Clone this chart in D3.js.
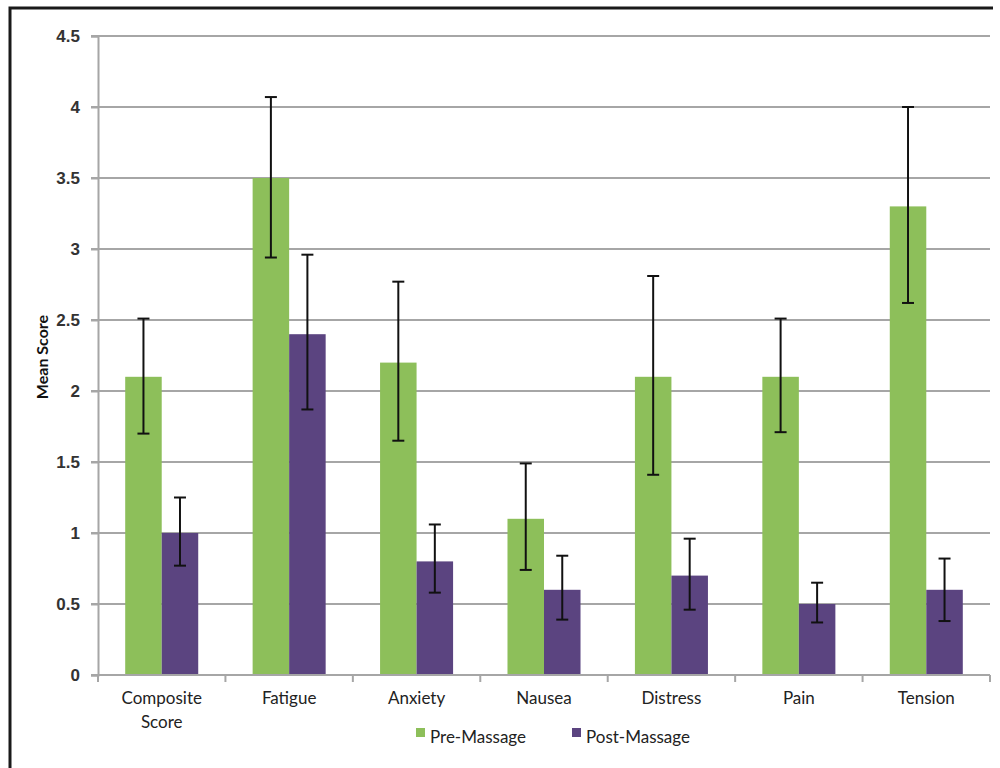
<!DOCTYPE html>
<html>
<head>
<meta charset="utf-8">
<script src="https://cdn.jsdelivr.net/npm/d3@7"></script>
<style>
  body { margin: 0; background: #fff; }
  svg { display: block; font-family: Lato, "Open Sans", sans-serif; }
</style>
</head>
<body>
<svg id="chart" width="1000" height="768"></svg>
<script>
const categories = ["Composite Score", "Fatigue", "Anxiety", "Nausea", "Distress", "Pain", "Tension"];
const series = ["Pre-Massage", "Post-Massage"];
const preMean = [2.1, 3.5, 2.2, 1.1, 2.1, 2.1, 3.3];
const preLow = [1.70, 2.94, 1.65, 0.74, 1.41, 1.71, 2.62];
const preHigh = [2.51, 4.07, 2.77, 1.49, 2.81, 2.51, 4.0];
const postMean = [1.0, 2.4, 0.8, 0.6, 0.7, 0.5, 0.6];
const postLow = [0.77, 1.87, 0.58, 0.39, 0.46, 0.37, 0.38];
const postHigh = [1.25, 2.96, 1.06, 0.84, 0.96, 0.65, 0.82];
const yTicks = [0, 0.5, 1, 1.5, 2, 2.5, 3, 3.5, 4, 4.5];

const colors = { "Pre-Massage": "#8dbf5a", "Post-Massage": "#5b4480" };

const svg = d3.select("#chart");
const plotLeft = 98, plotRight = 990, plotTop = 36, plotBottom = 675;

// frame
svg.append("path")
  .attr("d", "M10,768 L10,8 L993,8")
  .attr("fill", "none")
  .attr("stroke", "#1a1a1a")
  .attr("stroke-width", 3);

const x0 = d3.scaleBand().domain(categories).range([plotLeft, plotRight]);
const x1 = d3.scaleBand().domain(series).range([0, x0.bandwidth()]).paddingOuter(0.745);
const y = d3.scaleLinear().domain([0, 4.5]).range([plotBottom, plotTop]);

// gridlines
svg.append("g")
  .selectAll("line")
  .data(yTicks.filter(d => d > 0))
  .join("line")
    .attr("x1", plotLeft - 7)
    .attr("x2", plotRight)
    .attr("y1", d => y(d))
    .attr("y2", d => y(d))
    .attr("stroke", "#a6a6a6")
    .attr("stroke-width", 2);

// y axis
const yAxis = svg.append("g")
  .attr("transform", `translate(${plotLeft},0)`)
  .call(d3.axisLeft(y).tickValues(yTicks).tickSize(7).tickPadding(11).tickFormat(d => String(d)));
yAxis.select(".domain").attr("stroke", "#a6a6a6").attr("stroke-width", 2);
yAxis.selectAll(".tick line").attr("stroke", "#a6a6a6").attr("stroke-width", 2);
yAxis.selectAll(".tick text")
  .attr("font-size", 17)
  .attr("font-weight", "bold")
  .attr("fill", "#333");

svg.append("text")
  .attr("transform", `translate(48,357) rotate(-90)`)
  .attr("text-anchor", "middle")
  .attr("font-size", 16)
  .attr("font-weight", "bold")
  .attr("fill", "#111")
  .text("Mean Score");

// bars
const rows = categories.map((c, i) => ({
  cat: c,
  vals: [
    { s: series[0], v: preMean[i], lo: preLow[i], hi: preHigh[i] },
    { s: series[1], v: postMean[i], lo: postLow[i], hi: postHigh[i] }
  ]
}));

const group = svg.append("g")
  .selectAll("g")
  .data(rows)
  .join("g")
    .attr("transform", d => `translate(${x0(d.cat)},0)`);

group.selectAll("rect")
  .data(d => d.vals)
  .join("rect")
    .attr("x", d => x1(d.s))
    .attr("width", x1.bandwidth())
    .attr("y", d => y(d.v))
    .attr("height", d => y(0) - y(d.v))
    .attr("fill", d => colors[d.s]);

// error bars
const err = group.selectAll("g.err")
  .data(d => d.vals)
  .join("g")
    .attr("class", "err")
    .attr("stroke", "#111")
    .attr("stroke-width", 2);
const cx = d => x1(d.s) + x1.bandwidth() / 2;
err.append("line")
  .attr("x1", cx).attr("x2", cx)
  .attr("y1", d => y(d.hi)).attr("y2", d => y(d.lo));
err.append("line")
  .attr("x1", d => cx(d) - 6).attr("x2", d => cx(d) + 6)
  .attr("y1", d => y(d.hi)).attr("y2", d => y(d.hi));
err.append("line")
  .attr("x1", d => cx(d) - 6).attr("x2", d => cx(d) + 6)
  .attr("y1", d => y(d.lo)).attr("y2", d => y(d.lo));

// x axis
const xAxis = svg.append("g")
  .attr("transform", `translate(0,${plotBottom})`);
xAxis.append("line")
  .attr("x1", plotLeft - 7).attr("x2", plotRight)
  .attr("stroke", "#a6a6a6").attr("stroke-width", 2);
xAxis.selectAll("line.tk")
  .data(categories)
  .join("line")
    .attr("class", "tk")
    .attr("x1", (d, i) => plotLeft + x0.step() * (i + 1))
    .attr("x2", (d, i) => plotLeft + x0.step() * (i + 1))
    .attr("y1", 0).attr("y2", 7)
    .attr("stroke", "#a6a6a6").attr("stroke-width", 2);
xAxis.append("line")
  .attr("x1", plotLeft).attr("x2", plotLeft).attr("y1", 0).attr("y2", 7)
  .attr("stroke", "#a6a6a6").attr("stroke-width", 2);

const xl = xAxis.selectAll("text")
  .data(categories)
  .join("text")
    .attr("x", d => x0(d) + x0.bandwidth() / 2)
    .attr("y", 29)
    .attr("text-anchor", "middle")
    .attr("font-size", 17)
    .attr("fill", "#222");
xl.each(function(d) {
  const words = d === "Composite Score" ? ["Composite", "Score"] : [d];
  d3.select(this).selectAll("tspan")
    .data(words)
    .join("tspan")
      .attr("x", x0(d) + x0.bandwidth() / 2)
      .attr("dy", (w, i) => i === 0 ? 0 : 24)
      .text(w => w);
});

// legend
const legendX = [416, 572];
const legend = svg.append("g")
  .selectAll("g")
  .data(series)
  .join("g")
    .attr("transform", (d, i) => `translate(${legendX[i]},728)`);
legend.append("rect")
  .attr("width", 9).attr("height", 9).attr("y", 0)
  .attr("fill", d => colors[d]);
legend.append("text")
  .attr("x", 14).attr("y", 15)
  .attr("font-size", 17)
  .attr("fill", "#222")
  .text(d => d);
</script>
</body>
</html>
